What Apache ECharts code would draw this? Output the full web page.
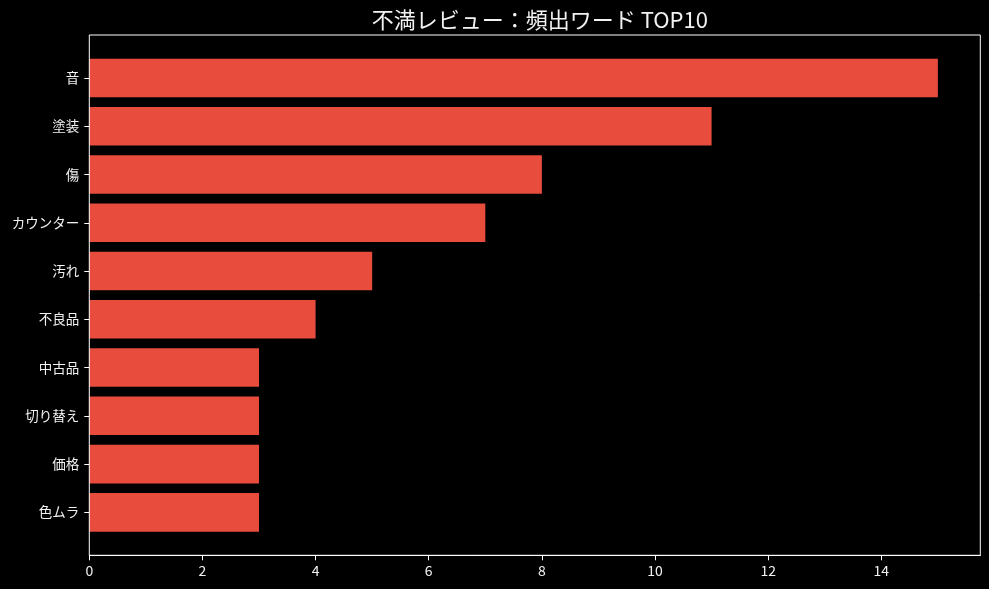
<!DOCTYPE html>
<html>
<head>
<meta charset="utf-8">
<script src="https://cdn.jsdelivr.net/npm/echarts@6/dist/echarts.min.js"></script>
<style>
html,body{margin:0;padding:0;background:#000;}
#c{width:989px;height:589px;}
</style>
</head>
<body>
<div id="c"></div>
<script>
const categories = ['音','塗装','傷','カウンター','汚れ','不良品','中古品','切り替え','価格','色ムラ'];
const counts = [15, 11, 8, 7, 5, 4, 3, 3, 3, 3];
const xTicks = [0, 2, 4, 6, 8, 10, 12, 14];
const titleText = '不満レビュー：頻出ワード TOP10';

const W = 989, H = 589;
const box = {left: 89.3, top: 35, right: 980.3, bottom: 555.3};
// matplotlib-like y limits: bars of height 0.8 with 5% margins
const yMin = -0.4 - 0.049 * 10, yMax = 9.4 + 0.049 * 10;
const unit = (box.bottom - box.top) / (yMax - yMin);
const gridTop = box.top + (-0.5 - yMin) * unit;
const gridHeight = categories.length * unit;
const gridBottom = H - (gridTop + gridHeight);
const font = '"Noto Sans CJK JP", "DejaVu Sans", sans-serif';

const chart = echarts.init(document.getElementById('c'));
chart.setOption({
  backgroundColor: '#000',
  animation: false,
  title: {
    text: titleText,
    left: (box.left + box.right) / 2,
    textAlign: 'center',
    top: 4,
    textStyle: {color: '#f2f2f2', fontFamily: font, fontSize: 22, fontWeight: 'normal'}
  },
  grid: {left: box.left, right: W - box.right, top: gridTop, bottom: gridBottom, containLabel: false},
  xAxis: {
    type: 'value', min: 0, max: 15.75, interval: 2,
    offset: box.bottom - (gridTop + gridHeight),
    axisLine: {show: true, lineStyle: {color: '#ffffff', width: 1}},
    axisTick: {show: true, length: 5, lineStyle: {color: '#ffffff'}, customValues: xTicks},
    axisLabel: {color: '#f2f2f2', fontFamily: font, fontSize: 14, margin: 8, customValues: xTicks},
    splitLine: {show: false}
  },
  yAxis: {
    type: 'category', data: categories, inverse: true,
    axisLine: {show: false},
    axisTick: {show: true, alignWithLabel: true, length: 5, lineStyle: {color: '#ffffff'}},
    axisLabel: {color: '#f2f2f2', fontFamily: font, fontSize: 13.5, margin: 10}
  },
  graphic: [{
    type: 'rect', silent: true, z: 10,
    shape: {x: box.left, y: box.top, width: box.right - box.left, height: box.bottom - box.top},
    style: {fill: 'none', stroke: '#ffffff', lineWidth: 1}
  }],
  series: [{
    type: 'bar', data: counts, barWidth: '80%',
    itemStyle: {color: '#E74C3C'}
  }]
});
</script>
</body>
</html>
